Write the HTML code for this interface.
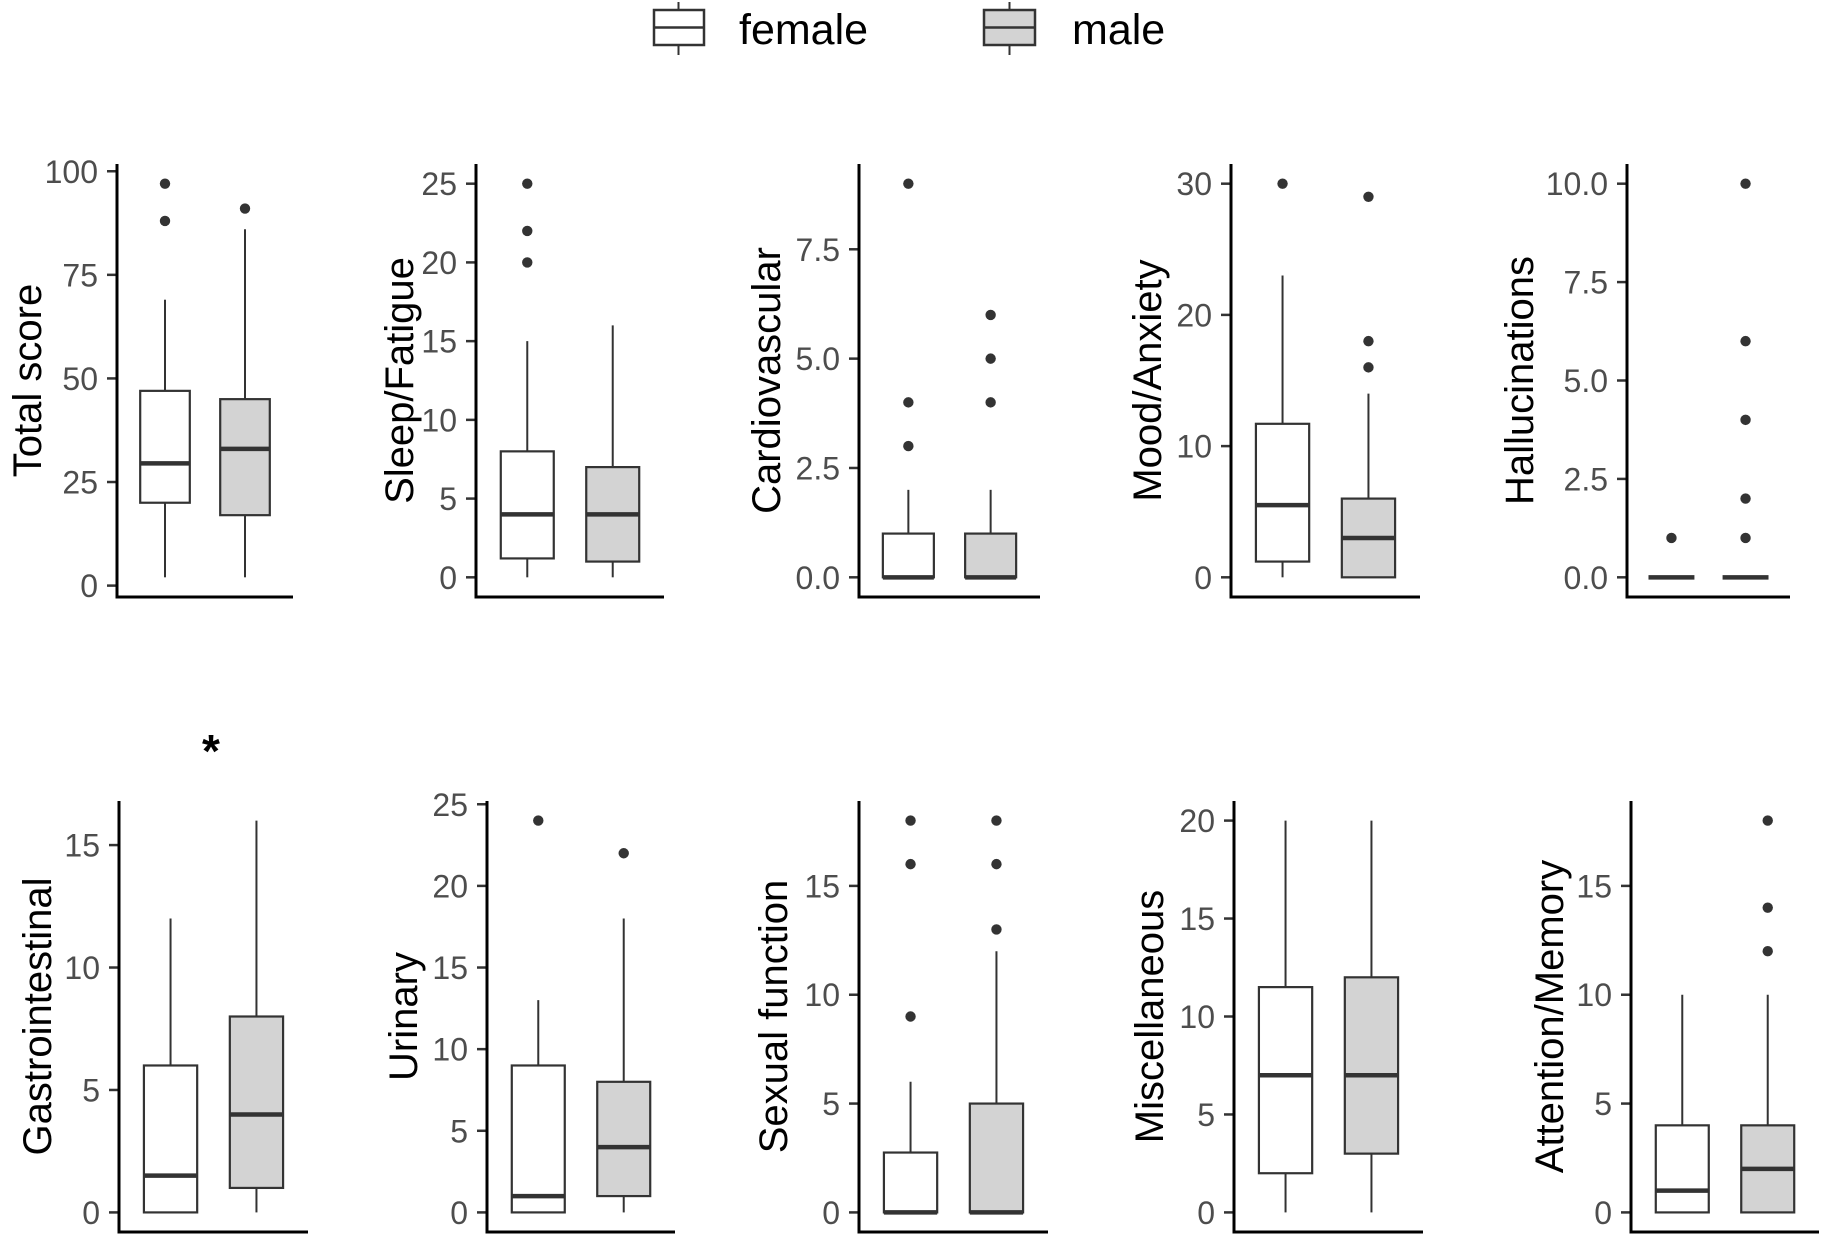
<!DOCTYPE html>
<html><head><meta charset="utf-8"><style>
html,body{margin:0;padding:0;background:#fff;}
svg{display:block;font-family:"Liberation Sans",Arial,sans-serif;}
</style></head><body>
<svg id="chart" width="1821" height="1235" viewBox="0 0 1821 1235" xmlns="http://www.w3.org/2000/svg">
<g>
 <g>
  <line x1="678.5" y1="2" x2="678.5" y2="55" stroke="#333" stroke-width="2"/>
  <rect x="654" y="10" width="50" height="35" fill="#fff" stroke="#333" stroke-width="2.5"/>
  <line x1="654" y1="27.5" x2="704" y2="27.5" stroke="#333" stroke-width="2.5"/>
  <text x="739" y="44" font-size="43" fill="#000">female</text>
 </g>
 <g>
  <line x1="1009.5" y1="2" x2="1009.5" y2="55" stroke="#333" stroke-width="2"/>
  <rect x="984" y="10" width="51" height="35" fill="#d3d3d3" stroke="#333" stroke-width="2.5"/>
  <line x1="984" y1="27.5" x2="1035" y2="27.5" stroke="#333" stroke-width="2.5"/>
  <text x="1072" y="44" font-size="43" fill="#000">male</text>
 </g>
</g>
<text x="211" y="767" font-size="46" font-weight="bold" text-anchor="middle" fill="#000">*</text>
</svg>
<script>
const panelTitles = ["Total score","Sleep/Fatigue","Cardiovascular","Mood/Anxiety","Hallucinations","Gastrointestinal","Urinary","Sexual function","Miscellaneous","Attention/Memory"];
const groups = ["female","male"];
// [whiskerLow, q1, median, q3, whiskerHigh]
const femaleStats = [[2,20,29.5,47,69],[0,1.2,4,8,15],[0,0,0,1,2],[0,1.2,5.5,11.7,23],[0,0,0,0,0],[0,0,1.5,6,12],[0,0,1,9,13],[0,0,0,2.75,6],[0,2,7,11.5,20],[0,0,1,4,10]];
const maleStats = [[2,17,33,45,86],[0,1,4,7,16],[0,0,0,1,2],[0,0,3,6,14],[0,0,0,0,0],[0,1,4,8,16],[0,1,4,8,18],[0,0,0,5,12],[0,3,7,12,20],[0,0,2,4,10]];
const femaleOutliers = [[88,97],[20,22,25],[3,4,9],[30],[1],[],[24],[9,16,18],[],[]];
const maleOutliers = [[91],[],[4,5,6],[16,18,29],[1,2,4,6,10],[],[22],[13,16,18],[],[12,14,18]];
const tickValues = [[0,25,50,75,100],[0,5,10,15,20,25],[0,2.5,5,7.5],[0,10,20,30],[0,2.5,5,7.5,10],[0,5,10,15],[0,5,10,15,20,25],[0,5,10,15],[0,5,10,15,20],[0,5,10,15]];
const tickLabels = [["0","25","50","75","100"],["0","5","10","15","20","25"],["0.0","2.5","5.0","7.5"],["0","10","20","30"],["0.0","2.5","5.0","7.5","10.0"],["0","5","10","15"],["0","5","10","15","20","25"],["0","5","10","15"],["0","5","10","15","20"],["0","5","10","15"]];

// layout (pixels)
const axisX = [117,476,859,1231,1627,119,487,859,1234,1631];
const endX = [293,664,1040,1420,1790,308,675,1048,1423,1819];
const titleX = [28,400,767,1148,1520,38,404,774,1150,1550];
const rowTop = [164,801], rowBot = [597,1232];
const NS = "http://www.w3.org/2000/svg";
const svg = document.getElementById('chart');
function mk(tag, attrs, parent){const e=document.createElementNS(NS,tag);for(const k in attrs)e.setAttribute(k,attrs[k]);(parent||svg).appendChild(e);return e;}

panelTitles.forEach((title,i)=>{
  const row = i<5?0:1;
  const top=rowTop[row], bot=rowBot[row];
  const all=[...femaleStats[i],...maleStats[i],...femaleOutliers[i],...maleOutliers[i]];
  let mn=Math.min(...all), mx=Math.max(...all);
  const pad=(mx-mn)*0.05;
  const d0=mn-pad, d1=mx+pad;
  const y=v=>bot-(v-d0)/(d1-d0)*(bot-top);
  const x0=axisX[i], x1=endX[i], W=x1-x0;
  const xs=k=>x0+W*(0.6+k)/2.2;
  const unit=W/2.2, bw=unit*0.62;
  const g=mk('g',{});
  
  
  const t=mk('text',{x:titleX[i],y:(top+bot)/2,'font-size':40,'text-anchor':'middle','dominant-baseline':'central',fill:'#000',transform:`rotate(-90 ${titleX[i]} ${(top+bot)/2})`},g);
  t.textContent=title;
  
  
  tickValues[i].forEach((v,j)=>{
    const yy=y(v);
    const tl=mk('line',{x1:x0-10,x2:x0,y1:yy,y2:yy,stroke:'#333','stroke-width':2.5},g);
    
    
    const tx=mk('text',{x:x0-19,y:yy+11.5,'font-size':32,'text-anchor':'end',fill:'#4d4d4d'},g);
    tx.textContent=tickLabels[i][j];
    
    
  });
  [femaleStats[i],maleStats[i]].forEach((s,k)=>{
    const cx=xs(k);
    const bg=mk('g',{},g);
    
    
    mk('line',{x1:cx,x2:cx,y1:y(s[0]),y2:y(s[1]),stroke:'#333','stroke-width':2},bg);
    mk('line',{x1:cx,x2:cx,y1:y(s[3]),y2:y(s[4]),stroke:'#333','stroke-width':2},bg);
    mk('rect',{x:cx-bw/2,y:y(s[3]),width:bw,height:Math.max(0,y(s[1])-y(s[3])),fill:k?'#d3d3d3':'#fff',stroke:'#333','stroke-width':2.2},bg);
    mk('line',{x1:cx-bw/2,x2:cx+bw/2,y1:y(s[2]),y2:y(s[2]),stroke:'#333','stroke-width':4.5},bg);
    const outs=k?maleOutliers[i]:femaleOutliers[i];
    outs.forEach(v=>{
      const c=mk('circle',{cx:cx,cy:y(v),r:5.2,fill:'#333'},bg);
      
      
    });
  });
  const ya=mk('line',{x1:x0,x2:x0,y1:top,y2:bot+1.5,stroke:'#000','stroke-width':3},g);
  
  
  const xa=mk('line',{x1:x0-1.5,x2:x1,y1:bot,y2:bot,stroke:'#000','stroke-width':3},g);
  
  
});
</script>
</body></html>
